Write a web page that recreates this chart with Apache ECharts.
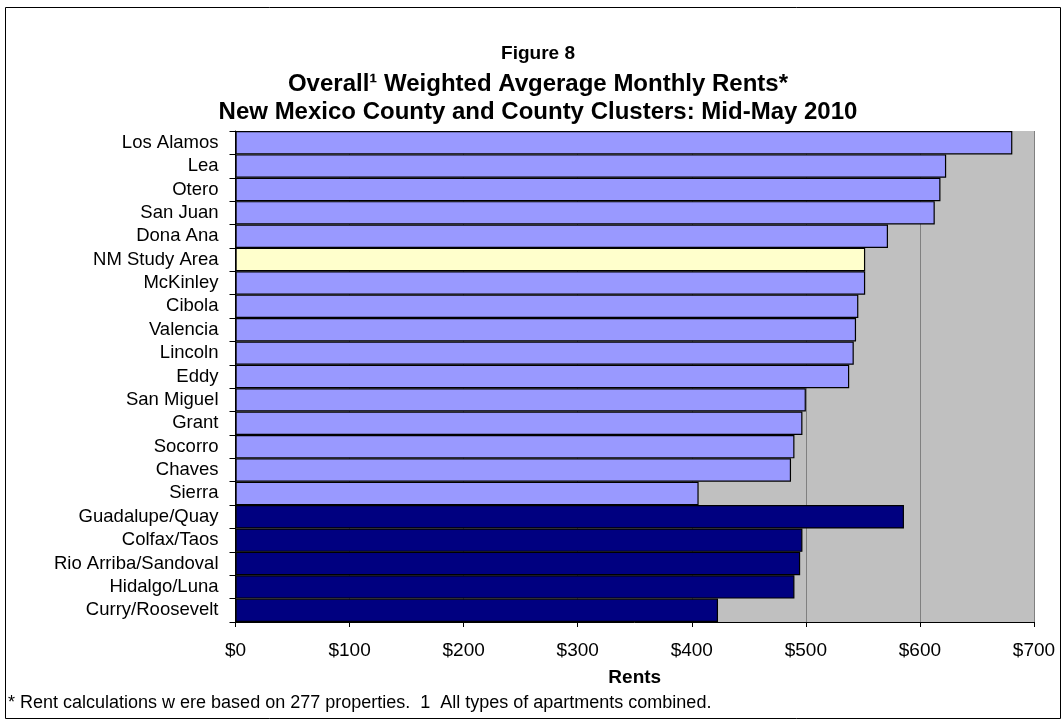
<!DOCTYPE html>
<html>
<head>
<meta charset="utf-8">
<script src="https://cdn.jsdelivr.net/npm/echarts@6/dist/echarts.min.js"></script>
<style>
html,body{margin:0;padding:0;background:#fff;}
#chart{width:1062px;height:723px;}
</style>
</head>
<body>
<div id="chart"></div>
<script>
var categories = ["Los Alamos","Lea","Otero","San Juan","Dona Ana","NM Study Area","McKinley","Cibola","Valencia","Lincoln","Eddy","San Miguel","Grant","Socorro","Chaves","Sierra","Guadalupe/Quay","Colfax/Taos","Rio Arriba/Sandoval","Hidalgo/Luna","Curry/Roosevelt"];
var rents = [681,623,618,613,572,552,552,546,544,542,538,500,497,490,487,406,586,497,495,490,423];
var groups = ["county","county","county","county","county","study","county","county","county","county","county","county","county","county","county","county","cluster","cluster","cluster","cluster","cluster"];
var xTicks = [0,100,200,300,400,500,600,700];

var groupColors = {county:"#9999FF", study:"#FFFFCC", cluster:"#000080"};
var FONT = "Liberation Sans, Arial, sans-serif";

var chart = echarts.init(document.getElementById('chart'), null, {renderer:'canvas'});
chart.setOption({
  animation:false,
  backgroundColor:'#ffffff',
  title:[
    {text:'Figure 8', left:533, top:39, textAlign:'center', textStyle:{fontFamily:FONT,fontSize:19,fontWeight:'bold',color:'#000'}},
    {text:'Overall\u00b9 Weighted Avgerage Monthly Rents*', left:533, top:67, textAlign:'center', textStyle:{fontFamily:FONT,fontSize:24,fontWeight:'bold',color:'#000'}},
    {text:'New Mexico County and County Clusters: Mid-May 2010', left:533, top:95, textAlign:'center', textStyle:{fontFamily:FONT,fontSize:24,fontWeight:'bold',color:'#000'}}
  ],
  grid:{left:235.5, right:28, top:131, bottom:101, show:true, backgroundColor:'#C0C0C0', borderWidth:0},
  xAxis:{
    type:'value', min:0, max:700, interval:100,
    name:'Rents', nameLocation:'middle', nameGap:46,
    nameTextStyle:{fontFamily:FONT,fontSize:19,fontWeight:'bold',color:'#000'},
    axisLine:{show:true,lineStyle:{color:'#000',width:1}},
    axisTick:{show:true,length:5,lineStyle:{color:'#000'}},
    axisLabel:{fontFamily:FONT,fontSize:19,color:'#000',margin:19,formatter:function(v){return '$'+v;}},
    splitLine:{show:true,lineStyle:{color:'#808080',width:1}}
  },
  yAxis:{
    type:'category', inverse:true, data:categories,
    axisLine:{show:true,lineStyle:{color:'#000',width:1}},
    axisTick:{show:true,length:6,interval:0,lineStyle:{color:'#000'}},
    axisLabel:{fontFamily:FONT,fontSize:18.5,color:'#000',margin:17,interval:0},
    splitLine:{show:false}
  },
  series:[{
    type:'bar',
    barCategoryGap:'0%',
    data:rents.map(function(v,i){return {value:v,itemStyle:{color:groupColors[groups[i]]}};}),
    itemStyle:{borderColor:'#000',borderWidth:1.2},
    z:3
  }],
  graphic:[
    {type:'rect', shape:{x:5.5,y:7.5,width:1055,height:711}, style:{fill:'none',stroke:'#000',lineWidth:1}, silent:true},
    {type:'text', left:8, top:694, style:{text:'* Rent calculations w ere based on 277 properties.  1  All types of apartments combined.', font:'18px '+FONT, fill:'#000'}}
  ]
});
</script>
</body>
</html>
